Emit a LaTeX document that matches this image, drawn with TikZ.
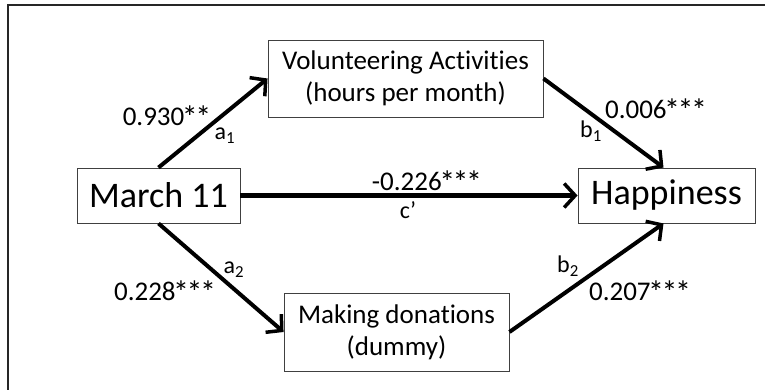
\documentclass[tikz,border=0pt]{standalone}
\usepackage{fontspec}
\setmainfont{Carlito}[Ligatures=NoCommon]
\usetikzlibrary{arrows.meta}
\newcommand{\onest}{\kern-2.5pt*}
\newcommand{\sigtwo}{\raisebox{-3pt}{\fontsize{32}{32}\selectfont\onest\onest}}
\newcommand{\sigthree}{\raisebox{-3pt}{\fontsize{32}{32}\selectfont\onest\onest\onest}}
\begin{document}
\begin{tikzpicture}[x=1pt,y=-1pt,
  box/.style={draw=black!75,line width=0.9pt,inner sep=0pt,align=center,font=\fontsize{27}{32}\selectfont},
  bigbox/.style={box,font=\fontsize{36}{40}\selectfont},
  path/.style={line width=4pt,-{Straight Barb[length=11pt,width=24pt,line width=3.5pt]}},
  lbl/.style={inner sep=0pt,font=\fontsize{27}{30}\selectfont},
  sub/.style={inner sep=0pt,font=\fontsize{24}{28}\selectfont}]
\useasboundingbox (0,0) rectangle (765,390);
\fill[white] (0,0) rectangle (765,390);
\coordinate (fl) at (8,390);
\coordinate (fc) at (8,5);
\coordinate (fr) at (765,5);
\draw[line width=2pt,black!85] (fl) -- (fc) -- (fr);

\node[bigbox,minimum width=163pt,minimum height=55pt] (march) at (158.5,195.5) {March 11};
\node[box,minimum width=275pt,minimum height=77pt] (vol) at (405.5,78.5) {Volunteering Activities\\(hours per month)};
\node[bigbox,minimum width=177pt,minimum height=55pt] (happy) at (666.5,195.5) {Happiness};
\node[box,minimum width=225pt,minimum height=78pt] (don) at (396.5,332) {Making donations\\(dummy)};

\draw[path] (march.north) -- (vol.west);
\draw[path] (vol.east) -- ([xshift=-3pt]happy.north);
\draw[path] (march.east) -- (happy.west);
\draw[path] (march.south) -- (don.west);
\draw[path] (don.east) -- ([xshift=-3pt]happy.south);

\node[lbl] (l1) at (167,117) {0.930\sigtwo};
\node[sub] (s1) at (225,136) {a\textsubscript{1}};
\node[lbl] (l2) at (656,110) {0.006\sigthree};
\node[sub] (s2) at (591,131) {b\textsubscript{1}};
\node[lbl] (l3) at (427,182) {-0.226\sigthree};
\node[sub] (s3) at (408,210) {c’};
\node[sub] (s4) at (234,270) {a\textsubscript{2}};
\node[lbl] (l4) at (165,292) {0.228\sigthree};
\node[sub] (s5) at (568,266) {b\textsubscript{2}};
\node[lbl] (l5) at (640,292) {0.207\sigthree};
\end{tikzpicture}
\end{document}
